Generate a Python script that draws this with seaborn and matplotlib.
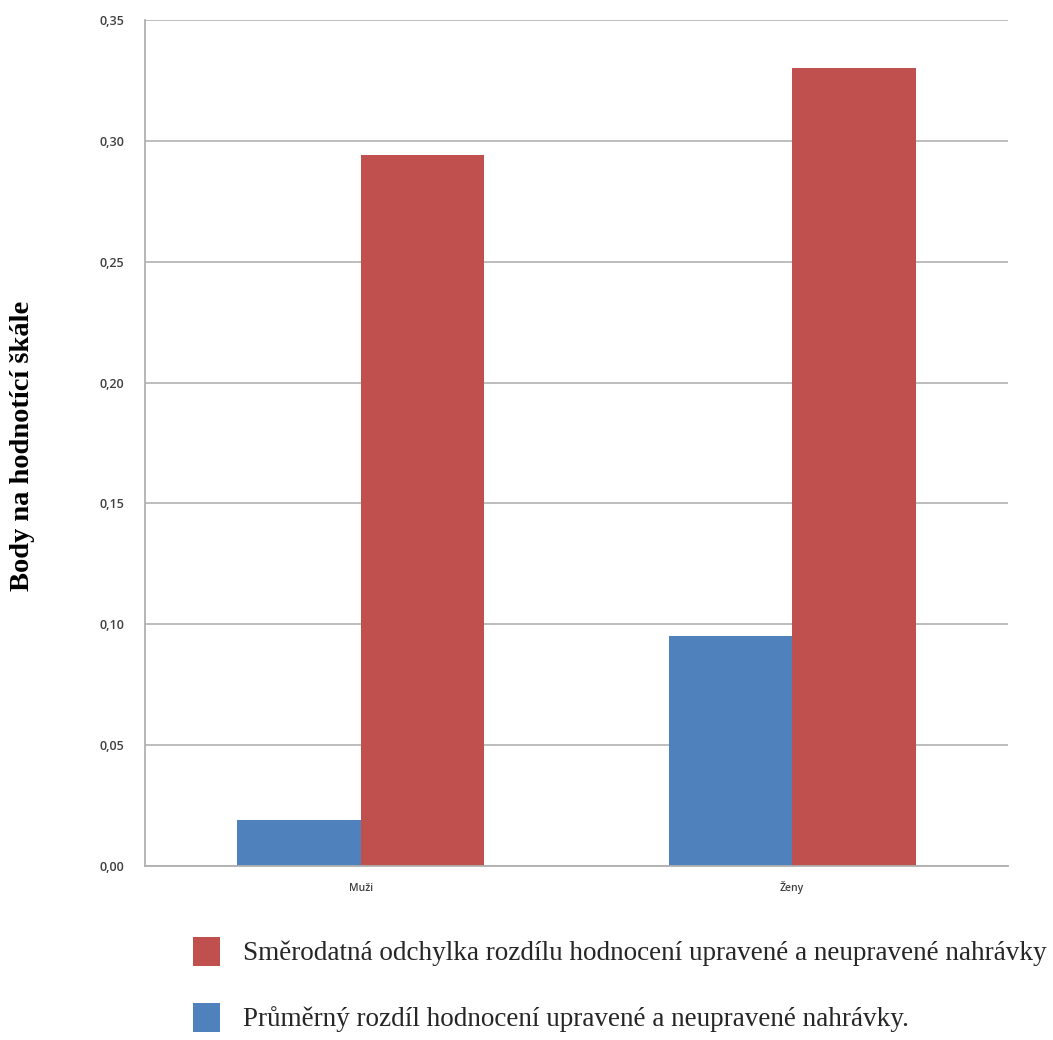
import matplotlib
matplotlib.use("Agg")
import matplotlib.pyplot as plt
import seaborn as sns
import pandas as pd
from matplotlib.ticker import FuncFormatter, MultipleLocator
from matplotlib.patches import Patch

# Data
groups = ["Muži", "Ženy"]
series_mean = "Průměrný rozdíl hodnocení upravené a neupravené nahrávky."
series_sd = "Směrodatná odchylka rozdílu hodnocení upravené a neupravené nahrávky"
mean_diff = [0.019, 0.095]
sd_diff = [0.294, 0.330]

blue = "#4F81BD"
red = "#C0504D"

df = pd.DataFrame({
    "skupina": groups * 2,
    "serie": [series_mean] * len(groups) + [series_sd] * len(groups),
    "hodnota": mean_diff + sd_diff,
})

sns.set_theme(style="white")
fig = plt.figure(figsize=(10.53, 10.40), dpi=100)
ax = fig.add_axes([145 / 1053, 1 - 866 / 1040, (1008 - 145) / 1053, (866 - 20) / 1040])

sns.barplot(data=df, x="skupina", y="hodnota", hue="serie",
            order=groups, hue_order=[series_mean, series_sd],
            palette=[blue, red], width=0.573, gap=0, saturation=1,
            edgecolor="none", linewidth=0, ax=ax, legend=False)

ax.set_ylim(0, 0.35)
ax.set_xlim(-0.5, 1.5)
ax.yaxis.set_major_locator(MultipleLocator(0.05))
ax.yaxis.set_major_formatter(FuncFormatter(lambda v, p: f"{v:.2f}".replace(".", ",")))
ax.grid(axis="y", color="#b8b8b8", linewidth=1.3)
ax.set_axisbelow(True)
for s in ["top", "right"]:
    ax.spines[s].set_visible(False)
for s in ["left", "bottom"]:
    ax.spines[s].set_color("#b0b0b0")
    ax.spines[s].set_linewidth(1.3)

ax.tick_params(axis="y", length=0, pad=15, labelsize=9, labelcolor="#404040")
ax.tick_params(axis="x", length=0, pad=18, labelsize=7.5, labelcolor="#404040")
for lbl in ax.get_yticklabels() + ax.get_xticklabels():
    lbl.set_fontfamily("Open Sans")
    lbl.set_fontweight("semibold")
for lbl in ax.get_xticklabels():
    lbl.set_verticalalignment("baseline")
ax.set_xlabel("")
ax.set_ylabel("")

fig.text(23 / 1053, 1 - 446 / 1040, "Body na hodnotící škále", rotation=90,
         ha="center", va="center", fontsize=20.5, fontweight="bold",
         family="Liberation Serif", color="black")

handles = [Patch(facecolor=red, edgecolor="none"), Patch(facecolor=blue, edgecolor="none")]
fig.legend(handles, [series_sd, series_mean], loc="upper left",
           bbox_to_anchor=(193 / 1053, 1 - 937 / 1040), frameon=False,
           prop={"family": "Liberation Serif", "size": 19.5},
           handlelength=1.0, handleheight=1.25, handletextpad=0.85,
           labelspacing=1.35, borderaxespad=0, borderpad=0)

fig.savefig("out.png", dpi=100)
